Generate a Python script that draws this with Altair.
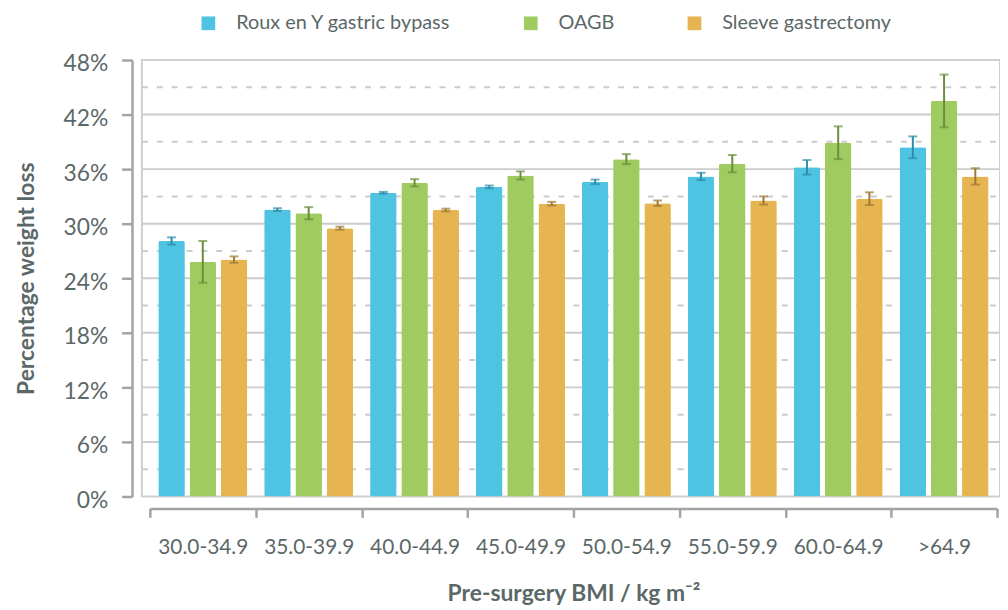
import altair as alt
import pandas as pd

categories = ["30.0-34.9", "35.0-39.9", "40.0-44.9", "45.0-49.9",
              "50.0-54.9", "55.0-59.9", "60.0-64.9", ">64.9"]
series = ["Roux en Y gastric bypass", "OAGB", "Sleeve gastrectomy"]

roux = [28.1, 31.55, 33.4, 34.05, 34.6, 35.2, 36.2, 38.4]
roux_err = [0.4, 0.15, 0.1, 0.15, 0.25, 0.4, 0.8, 1.2]
oagb = [25.8, 31.15, 34.5, 35.3, 37.1, 36.6, 38.9, 43.5]
oagb_err = [2.3, 0.67, 0.4, 0.45, 0.55, 0.95, 1.8, 2.9]
sleeve = [26.05, 29.5, 31.5, 32.2, 32.25, 32.55, 32.75, 35.2]
sleeve_err = [0.35, 0.17, 0.15, 0.2, 0.3, 0.45, 0.7, 0.9]

y_ticks = [0, 6, 12, 18, 24, 30, 36, 42, 48]
grid_solid = [6, 12, 18, 24, 30, 36, 42]
grid_dashed = [3, 9, 15, 21, 27, 33, 39, 45]

bar_colors = ["#4fc3e2", "#9fcb60", "#e6b552"]
err_colors = ["#2f8ca8", "#6a8e3c", "#9c7a33"]

rows = []
for s, vals, errs in zip(series, [roux, oagb, sleeve], [roux_err, oagb_err, sleeve_err]):
    for c, v, e in zip(categories, vals, errs):
        rows.append({"bmi": c, "procedure": s, "value": v, "lo": v - e, "hi": v + e})
df = pd.DataFrame(rows)

W, H = 854, 440
TXT = "#5b6868"
AX = "#a3a3a3"
FONT = "Lato"

yscale = alt.Scale(domain=[0, 48], nice=False, zero=True)
xscale = alt.Scale(paddingInner=0, paddingOuter=0)
offscale = alt.Scale(paddingInner=0.15, paddingOuter=0.27)

x_axis = alt.Axis(title="Pre-surgery BMI / kg m⁻²", tickBand="extent",
                  offset=12, domainColor=AX, domainWidth=2.5,
                  tickColor=AX, tickWidth=2.5, tickSize=9,
                  labelFontSize=21, labelPadding=19, labelColor=TXT,
                  labelAngle=0, titleFontSize=23, titleFontWeight="bold",
                  titleColor=TXT, titlePadding=26, grid=False)
y_axis = alt.Axis(title="Percentage weight loss", values=y_ticks,
                  labelExpr="datum.value + '%'", grid=False,
                  offset=18, domainColor=AX, domainWidth=2.5,
                  tickColor=AX, tickWidth=2.5, tickSize=10.5,
                  labelFontSize=23, labelPadding=14, labelColor=TXT,
                  labelOffset=4,
                  titleFontSize=23, titleFontWeight="bold",
                  titleColor=TXT, titlePadding=25)

x_enc = alt.X("bmi:N", sort=categories, scale=xscale, axis=x_axis)
xo = alt.XOffset("procedure:N", sort=series, scale=offscale)


def yq(field):
    return alt.Y(field, scale=yscale, axis=y_axis)


frame_df = pd.DataFrame({"k": [0]})
frame = alt.Chart(frame_df).mark_rect(fill=None, stroke="#cfcfcf", strokeWidth=2).encode(
    x=alt.value(-8), x2=alt.value(W + 3), y=alt.value(0), y2=alt.value(H)
)

solid = alt.Chart(pd.DataFrame({"value": grid_solid})).mark_rule(
    color="#cccccc", strokeWidth=2
).encode(
    x=alt.value(-8), x2=alt.value(W + 3),
    y=yq("value:Q")
)
dashed = alt.Chart(pd.DataFrame({"value": grid_dashed})).mark_rule(
    color="#cccccc", strokeWidth=2, strokeDash=[6, 9]
).encode(
    x=alt.value(-8), x2=alt.value(W + 3),
    y=yq("value:Q")
)

bars = alt.Chart(df).mark_bar(cornerRadius=2).encode(
    x=x_enc,
    xOffset=xo,
    y=yq("value:Q"),
    color=alt.Color("procedure:N", sort=series,
                    scale=alt.Scale(domain=series, range=bar_colors),
                    legend=alt.Legend(title=None, orient="none", direction="horizontal",
                                      legendX=49, legendY=-47, padding=0,
                                      symbolType="square", symbolSize=190,
                                      symbolStrokeWidth=0, labelFontSize=20,
                                      labelColor=TXT, labelOffset=18, labelLimit=500,
                                      columnPadding=70)),
)

ecolor = alt.Color("procedure:N", sort=series,
                   scale=alt.Scale(domain=series, range=err_colors), legend=None)

err = alt.Chart(df).mark_rule(strokeWidth=2).encode(
    x=x_enc, xOffset=xo,
    y=yq("lo:Q"), y2="hi:Q",
    color=ecolor,
)
cap_lo = alt.Chart(df).mark_tick(thickness=2, size=9).encode(
    x=x_enc, xOffset=xo,
    y=yq("lo:Q"),
    color=ecolor,
)
cap_hi = alt.Chart(df).mark_tick(thickness=2, size=9).encode(
    x=x_enc, xOffset=xo,
    y=yq("hi:Q"),
    color=ecolor,
)

chart = alt.layer(frame, solid, dashed, bars, err, cap_lo, cap_hi).resolve_scale(
    color="independent"
).properties(
    width=W, height=H,
    autosize=alt.AutoSizeParams(type="none"),
    padding={"left": 143, "top": 50, "right": 3, "bottom": 112},
).configure(font=FONT).configure_view(stroke=None)

chart.save("out.html", embed_options={"renderer": "svg", "actions": False})
